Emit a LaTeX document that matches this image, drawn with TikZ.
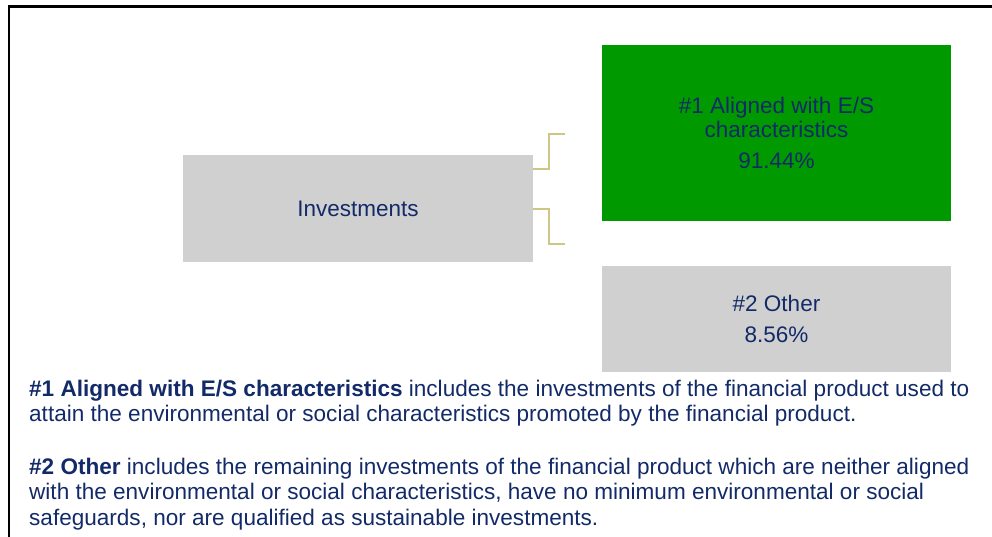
\documentclass[tikz,border=0pt]{standalone}
\usepackage{fontspec}
\setmainfont{Liberation Sans}
\usepackage{xcolor}
\usetikzlibrary{positioning, calc}
\definecolor{navy}{RGB}{18,42,104}
\definecolor{esgreen}{RGB}{0,153,0}
\definecolor{boxgray}{RGB}{208,208,208}
\definecolor{linkolive}{RGB}{206,198,132}

\begin{document}
\begin{tikzpicture}[
    x=1pt, y=-1pt,
    block/.style={rectangle, inner sep=0pt, align=center, text=navy, font=\fontsize{22.5}{23.5}\selectfont},
    link/.style={draw=linkolive, line width=1.6pt},
    defn/.style={anchor=north west, align=left, inner sep=0pt, text=navy, font=\fontsize{22.55}{25.5}\selectfont},
]
\useasboundingbox (0,0) rectangle (992,537);

% Frame
\draw[line width=2.4pt, black] (9,537) -- (9,6.5) -- (992,6.5);

% Boxes
\node[block, fill=boxgray, minimum width=350pt, minimum height=107pt] (invest) at (358,208.5) {Investments};
\node[block, fill=esgreen, minimum width=349pt, minimum height=176pt] (aligned) at (776.5,133) {\#1 Aligned with E/S\\characteristics\\[8pt]91.44\%};
\node[block, fill=boxgray, minimum width=349pt, minimum height=106pt] (other) at (776.5,319) {\#2 Other\\[8pt]8.56\%};

% Connectors
\coordinate (top) at (565,134);
\coordinate (bot) at (565,244);
\draw[link] ([yshift=-14pt]invest.north east) -- ++(16,0) |- (top);
\draw[link] ([yshift=53pt]invest.south east) -- ++(16,0) |- (bot);

% Definitions
\node[defn] (def1) at (29,379.5) {%
    \textbf{\#1 Aligned with E/S characteristics} includes the investments of the financial product used to\\
    attain the environmental or social characteristics promoted by the financial product.};
\node[defn] (def2) at (29,457.5) {%
    \textbf{\#2 Other} includes the remaining investments of the financial product which are neither aligned\\
    with the environmental or social characteristics, have no minimum environmental or social\\
    safeguards, nor are qualified as sustainable investments.};

\end{tikzpicture}
\end{document}
